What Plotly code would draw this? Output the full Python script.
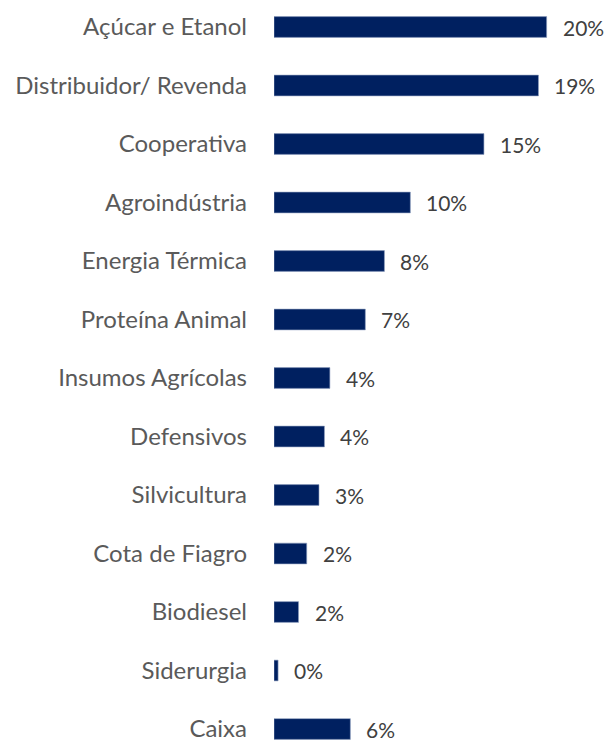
import plotly.graph_objects as go

categories = ["Açúcar e Etanol", "Distribuidor/ Revenda", "Cooperativa", "Agroindústria",
              "Energia Térmica", "Proteína Animal", "Insumos Agrícolas", "Defensivos",
              "Silvicultura", "Cota de Fiagro", "Biodiesel", "Siderurgia", "Caixa"]
values = [20.0, 19.4, 15.4, 10.0, 8.1, 6.7, 4.1, 3.7, 3.3, 2.4, 1.8, 0.3, 5.6]
value_labels = ["20%", "19%", "15%", "10%", "8%", "7%", "4%", "4%", "3%", "2%", "2%", "0%", "6%"]

fig = go.Figure(go.Bar(
    x=values, y=categories, orientation="h",
    marker=dict(color="#002060", line=dict(color="#8ea0c0", width=0.6)),
    width=0.355, hoverinfo="skip",
))

for c, v, t in zip(categories, values, value_labels):
    fig.add_annotation(x=v, y=c, text=t, showarrow=False, xanchor="left", xshift=14,
                       font=dict(family="Lato", size=21, color="#404040"))

fig.update_layout(
    width=605, height=742,
    margin=dict(l=274, r=0, t=0, b=0),
    paper_bgcolor="white", plot_bgcolor="white",
    showlegend=False,
    xaxis=dict(range=[0, 24.28], visible=False, fixedrange=True),
    yaxis=dict(categoryorder="array", categoryarray=categories, automargin=False,
               range=[12.222, -0.4615], showgrid=False, zeroline=False, showline=False,
               ticks="", ticklabelstandoff=26, fixedrange=True,
               tickfont=dict(family="Lato", size=24, color="#5a5a5a")),
)

fig.write_html("out.html", config={"displayModeBar": False, "staticPlot": True},
               post_script="document.body.style.margin='0';")
